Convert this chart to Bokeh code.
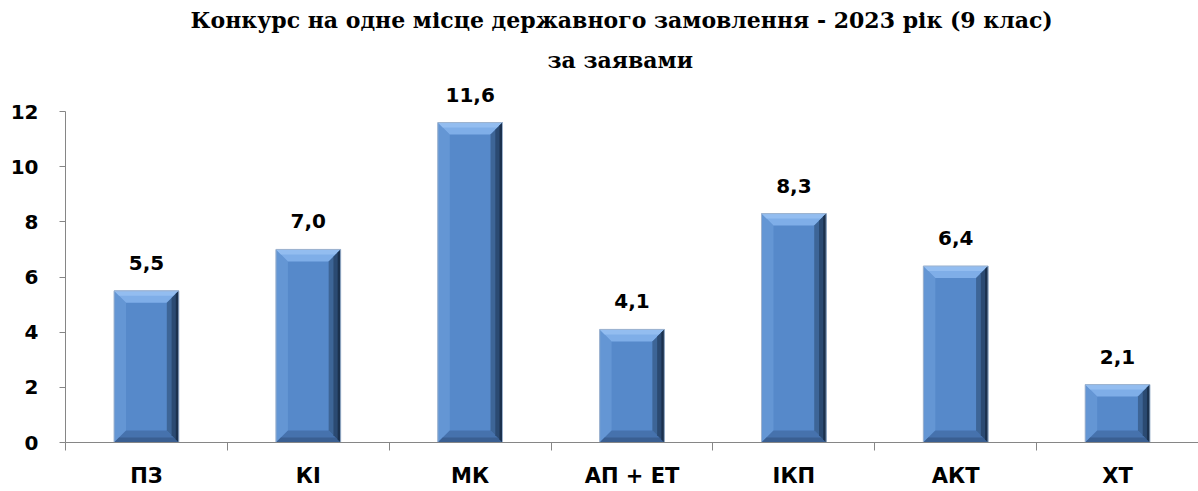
from bokeh.plotting import figure
from bokeh.models import Range1d, FixedTicker, Title
from bokeh.embed import file_html
from bokeh.resources import INLINE
from bokeh.core.properties import value

categories = ["ПЗ", "КІ", "МК", "АП + ЕТ", "ІКП", "АКТ", "ХТ"]
values = [5.5, 7.0, 11.6, 4.1, 8.3, 6.4, 2.1]
y_ticks = [0, 2, 4, 6, 8, 10, 12]
title_line1 = "Конкурс на одне місце державного замовлення  - 2023 рік (9 клас)"
title_line2 = "за заявами"

labels = [f"{v:.1f}".replace(".", ",") for v in values]
n = len(categories)
xs = [i + 0.5 for i in range(n)]
bounds = list(range(n + 1))

W, H = 1198, 491
Y_MAX = 12.98
FRAME_W = 1133.0
FRAME_H = 358.0
px_x = FRAME_W / n
px_y = FRAME_H / Y_MAX

p = figure(width=W, height=H, x_range=Range1d(0, n), y_range=Range1d(0, Y_MAX),
           output_backend="svg", toolbar_location=None,
           min_border_left=65, min_border_right=0, min_border_top=84, min_border_bottom=49)
p.xgrid.visible = False
p.ygrid.visible = False
p.outline_line_color = None
p.background_fill_color = "white"
p.border_fill_color = "white"

# titles
TFONT = "DejaVu Serif"
t2 = Title(text=title_line2, align="left", offset=482, text_font=TFONT,
           text_font_size="22px", text_font_style="bold", text_color="black", standoff=24)
t1 = Title(text=title_line1, align="left", offset=125, text_font=TFONT,
           text_font_size="22px", text_font_style="bold", text_color="black", standoff=0)
p.title = None
p.add_layout(t2, "above")
p.add_layout(t1, "above")

bw = 0.4
bx = 12.0 / px_x
by = 12.0 / px_y
bx2 = 5.0 / px_x
by2 = 5.0 / px_y


def trap(side, x0, x1, v, dx, dy):
    if side == "top":
        return [x0, x1, x1 - dx, x0 + dx], [v, v, v - dy, v - dy]
    if side == "bottom":
        return [x0, x1, x1 - dx, x0 + dx], [0, 0, dy, dy]
    if side == "left":
        return [x0, x0, x0 + dx, x0 + dx], [0, v, v - dy, dy]
    return [x1, x1, x1 - dx, x1 - dx], [0, v, v - dy, dy]


# base faces
p.quad(left=[x - bw / 2 for x in xs], right=[x + bw / 2 for x in xs],
       bottom=0, top=values, fill_color="#5689CA", line_color=None)

layers = [
    ("left", bx, by, "#6496D4"),
    ("bottom", bx, by, "#4672AD"),
    ("bottom", bx2, by2, "#3A5F92"),
    ("top", bx, by, "#7FAEE8"),
    ("top", bx2, by2, "#93BDF0"),
    ("right", bx, by, "#3D6597"),
    ("right", bx * 0.6, by * 0.6, "#2B4A72"),
    ("right", bx * 0.25, by * 0.25, "#1B314E"),
]
for side, dx, dy, col in layers:
    pxs, pys = [], []
    for x, v in zip(xs, values):
        a, b = trap(side, x - bw / 2, x + bw / 2, v, dx, dy)
        pxs.append(a)
        pys.append(b)
    p.patches(xs=pxs, ys=pys, fill_color=col, line_color=None)

p.quad(left=[x - bw / 2 for x in xs], right=[x + bw / 2 for x in xs],
       bottom=0, top=values, fill_color=None, line_color="#9EB3CE", line_width=1)

SFONT = "DejaVu Sans"
# data labels
p.text(x=xs, y=values, text=labels, text_align="center", text_baseline="middle",
       y_offset=-28, text_font=value(SFONT), text_font_style="bold",
       text_font_size="20px", text_color="black")

# x axis
xa = p.xaxis[0]
xa.ticker = FixedTicker(ticks=xs, minor_ticks=bounds)
xa.major_label_overrides = {x: c for x, c in zip(xs, categories)}
xa.major_tick_out = 0
xa.major_tick_in = 0
xa.minor_tick_out = 8
xa.minor_tick_in = 0
xa.minor_tick_line_color = "#868686"
xa.axis_line_color = "#868686"
xa.major_label_standoff = 13
xa.major_label_text_font = SFONT
xa.major_label_text_font_style = "bold"
xa.major_label_text_font_size = "21px"
xa.major_label_text_color = "black"

# y axis
ya = p.yaxis[0]
ya.ticker = FixedTicker(ticks=y_ticks, minor_ticks=[])
ya.bounds = (0, 12)
ya.major_tick_out = 6
ya.major_tick_in = 0
ya.major_tick_line_color = "#868686"
ya.axis_line_color = "#868686"
ya.major_label_standoff = 21
ya.major_label_text_font = SFONT
ya.major_label_text_font_style = "bold"
ya.major_label_text_font_size = "20px"
ya.major_label_text_color = "black"

open("out.html", "w").write(file_html(p, INLINE))
